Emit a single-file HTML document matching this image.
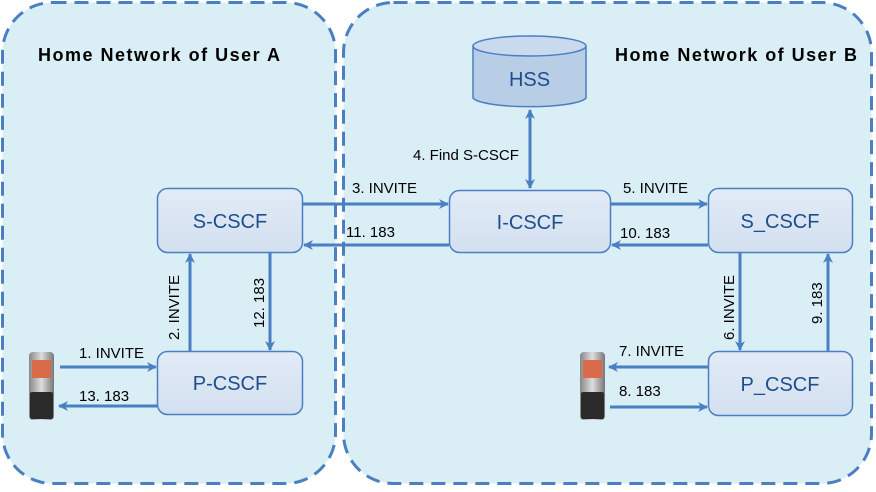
<!DOCTYPE html>
<html><head><style>
body{margin:0;background:#fff;}
svg text{font-family:"Liberation Sans",sans-serif;}
</style></head><body>
<svg width="876" height="487" viewBox="0 0 876 487" xmlns="http://www.w3.org/2000/svg">
<defs>
<marker id="a" markerWidth="10" markerHeight="10" refX="9" refY="5" orient="auto" markerUnits="userSpaceOnUse">
<path d="M0,0 L10,5 L0,10 L3,5 z" fill="#4a7fc1"/></marker>
<marker id="b" markerWidth="10" markerHeight="10" refX="1" refY="5" orient="auto" markerUnits="userSpaceOnUse">
<path d="M10,0 L0,5 L10,10 L7,5 z" fill="#4a7fc1"/></marker>
<linearGradient id="g" x1="0" y1="0" x2="0" y2="1"><stop offset="0" stop-color="#e2ebf6"/><stop offset="1" stop-color="#d3e0f0"/></linearGradient>
<linearGradient id="ph" x1="0" y1="0" x2="1" y2="0"><stop offset="0" stop-color="#888"/><stop offset="0.5" stop-color="#ddd"/><stop offset="1" stop-color="#777"/></linearGradient>
</defs>
<rect x="2.5" y="2.5" width="333" height="481" rx="50" fill="#daeef5" stroke="#4a7fc1" stroke-width="3" stroke-dasharray="14,8"/>
<rect x="343.5" y="2.5" width="528" height="481" rx="50" fill="#daeef5" stroke="#4a7fc1" stroke-width="3" stroke-dasharray="14,8"/>
<text x="38" y="61" font-size="18" font-weight="bold" textLength="242" lengthAdjust="spacing">Home Network of User A</text>
<text x="615" y="61" font-size="18" font-weight="bold" textLength="242" lengthAdjust="spacing">Home Network of User B</text>
<!-- HSS -->
<path d="M473,46 L473,98 A57,10 0 0 0 586,98 L586,46" fill="#b8cde6" stroke="#4a7fc1" stroke-width="1.5"/>
<ellipse cx="529.5" cy="46" rx="56.5" ry="10" fill="#c9d9ee" stroke="#4a7fc1" stroke-width="1.5"/>
<text x="529.5" y="86" font-size="20" fill="#1f4e8c" text-anchor="middle">HSS</text>
<g fill="url(#g)" stroke="#4a7fc1" stroke-width="1.5">
<rect x="157.5" y="188.5" width="145" height="64" rx="10"/>
<rect x="157.5" y="351.5" width="145" height="63" rx="10"/>
<rect x="449.5" y="190.5" width="161" height="62" rx="10"/>
<rect x="708.5" y="188.5" width="144" height="64" rx="10"/>
<rect x="708.5" y="351.5" width="144" height="64" rx="10"/>
</g>
<g font-size="20" fill="#1f4e8c" text-anchor="middle">
<text x="230" y="228">S-CSCF</text>
<text x="230" y="390">P-CSCF</text>
<text x="530" y="229">I-CSCF</text>
<text x="780" y="228">S_CSCF</text>
<text x="780" y="391">P_CSCF</text>
</g>
<g stroke="#4a7fc1" stroke-width="3" fill="none">
<line x1="530" y1="110" x2="530" y2="188" marker-start="url(#b)" marker-end="url(#a)"/>
<line x1="302" y1="204" x2="448" y2="204" marker-end="url(#a)"/>
<line x1="449" y1="245" x2="304" y2="245" marker-end="url(#a)"/>
<line x1="610" y1="204" x2="707" y2="204" marker-end="url(#a)"/>
<line x1="708" y1="245" x2="612" y2="245" marker-end="url(#a)"/>
<line x1="190" y1="351" x2="190" y2="254" marker-end="url(#a)"/>
<line x1="270" y1="252" x2="270" y2="350" marker-end="url(#a)"/>
<line x1="740" y1="252" x2="740" y2="350" marker-end="url(#a)"/>
<line x1="828" y1="351" x2="828" y2="254" marker-end="url(#a)"/>
<line x1="60" y1="367" x2="156" y2="367" marker-end="url(#a)"/>
<line x1="157" y1="406" x2="59" y2="406" marker-end="url(#a)"/>
<line x1="708" y1="367" x2="609" y2="367" marker-end="url(#a)"/>
<line x1="610" y1="407" x2="707" y2="407" marker-end="url(#a)"/>
</g>
<g font-size="15" fill="#000">
<text x="413" y="160">4. Find S-CSCF</text>
<text x="352" y="193">3. INVITE</text>
<text x="346" y="237">11. 183</text>
<text x="623" y="193">5. INVITE</text>
<text x="620" y="238">10. 183</text>
<text x="79" y="358">1. INVITE</text>
<text x="79" y="401">13. 183</text>
<text x="619" y="356">7. INVITE</text>
<text x="619" y="396">8. 183</text>
<text transform="translate(179,340) rotate(-90)">2. INVITE</text>
<text transform="translate(264,328) rotate(-90)">12. 183</text>
<text transform="translate(734,340) rotate(-90)">6. INVITE</text>
<text transform="translate(822,324) rotate(-90)">9. 183</text>
</g>
<!-- phones -->
<g>
<rect x="29" y="352" width="25" height="68" rx="4" fill="url(#ph)"/>
<rect x="32" y="360" width="19" height="18" fill="#d96a4a"/>
<rect x="30" y="392" width="23" height="27" rx="2" fill="#2a2a2a"/>
<rect x="580" y="352" width="25" height="68" rx="4" fill="url(#ph)"/>
<rect x="583" y="360" width="19" height="18" fill="#d96a4a"/>
<rect x="581" y="392" width="23" height="27" rx="2" fill="#2a2a2a"/>
</g>
</svg>
</body></html>
